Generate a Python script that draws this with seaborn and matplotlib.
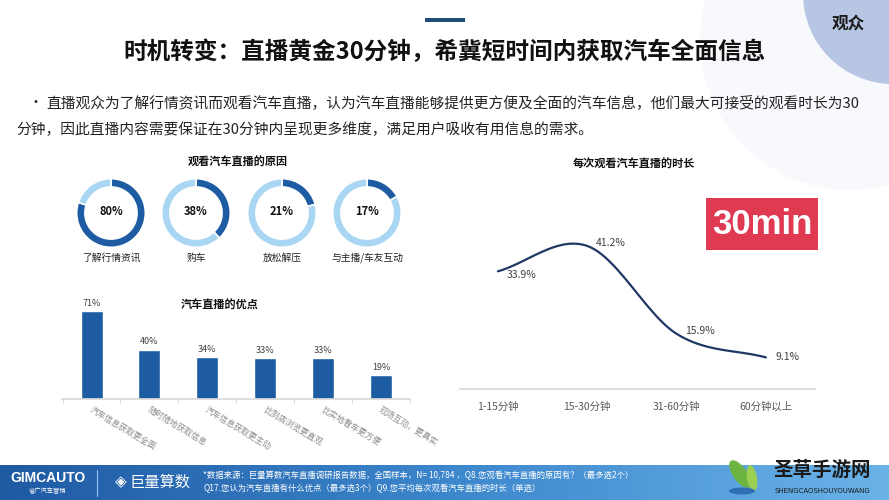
import numpy as np
import pandas as pd
import seaborn as sns
import matplotlib.pyplot as plt
from matplotlib.patches import Circle, Rectangle, Ellipse
from matplotlib.colors import LinearSegmentedColormap

# data
reason_labels = ['了解行情资讯', '购车', '放松解压', '与主播/车友互动']
reason_values = [80, 38, 21, 17]

merit_labels = ['汽车信息获取更全面', '随时随地获取信息', '汽车信息获取更主动',
                '比到店浏览更直观', '比实地看车更方便', '现场互动，更真实']
merit_values = [71, 40, 34, 33, 33, 19]

duration_labels = ['1-15分钟', '15-30分钟', '31-60分钟', '60分钟以上']
duration_values = [33.9, 41.2, 15.9, 9.1]

W, H = 889, 500
DARK = '#1D5BA3'
LIGHT = '#A9D6F2'
NAVY = '#1F3864'

sns.set_theme(style='white')
plt.rcParams['font.family'] = ['Noto Sans CJK SC', 'DejaVu Sans']

fig = plt.figure(figsize=(W / 100, H / 100), dpi=100)
fig.patch.set_facecolor('white')


def px_axes(x0, y0, x1, y1, **kw):
    # axes placed with pixel coords measured from the top-left corner
    ax = fig.add_axes([x0 / W, 1 - y1 / H, (x1 - x0) / W, (y1 - y0) / H], **kw)
    ax.set_facecolor('none')
    return ax


def ftext(x, y, s, **kw):
    return fig.text(x / W, 1 - y / H, s, **kw)


# background decoration (top right)
bg = px_axes(0, 0, W, H)
bg.set_xlim(0, W)
bg.set_ylim(H, 0)
bg.axis('off')
bg.add_patch(Circle((850, 40), 150, facecolor='#F8F9FC', edgecolor='none'))
bg.add_patch(Circle((893, -6), 90, facecolor='#B7C6E3', edgecolor='none'))
bg.add_patch(Rectangle((425, 18), 40, 3.5, facecolor='#1F4E79', edgecolor='none'))
ftext(848, 24, '观众', fontsize=12, fontweight='bold', color='#1A1A1A', ha='center', va='center')

# title and bullet text
ftext(445, 52, '时机转变：直播黄金30分钟，希冀短时间内获取汽车全面信息',
      fontsize=17, fontweight='bold', color='#111111', ha='center', va='center')
ftext(29, 103, '•', fontsize=10, color='#222222', ha='left', va='center')
ftext(46, 103, '直播观众为了解行情资讯而观看汽车直播，认为汽车直播能够提供更方便及全面的汽车信息，他们最大可接受的观看时长为30',
      fontsize=10.6, color='#222222', ha='left', va='center')
ftext(16, 130, '分钟，因此直播内容需要保证在30分钟内呈现更多维度，满足用户吸收有用信息的需求。',
      fontsize=10.6, color='#222222', ha='left', va='center')

# donuts
ftext(238, 162, '观看汽车直播的原因', fontsize=8, fontweight='bold', color='#111111', ha='center', va='center')
centers = [111, 196, 282, 367]
for cx, lab, val in zip(centers, reason_labels, reason_values):
    ax = px_axes(cx - 35, 213 - 35, cx + 35, 213 + 35)
    ax.pie([val, 100 - val], colors=[DARK, LIGHT], startangle=90, counterclock=False, radius=1,
           wedgeprops=dict(width=0.24, edgecolor='white', linewidth=1.2))
    ax.set_xlim(-1.02, 1.02)
    ax.set_ylim(-1.02, 1.02)
    ax.set_aspect('equal')
    ax.text(0, 0.05, f'{val}%', fontsize=8, fontweight='bold', color='#111111', ha='center', va='center')
    ftext(cx, 258, lab, fontsize=7, color='#222222', ha='center', va='center')

# bar chart
ftext(220, 305, '汽车直播的优点', fontsize=8, fontweight='bold', color='#111111', ha='center', va='center')
axb = px_axes(62, 300, 410, 399)
bar_df = pd.DataFrame({'label': merit_labels, 'value': merit_values})
sns.barplot(data=bar_df, x='label', y='value', color=DARK, width=0.38, saturation=1, ax=axb)
axb.set_xlim(-0.51, 5.45)
axb.set_ylim(0, 80)
for i, v in enumerate(merit_values):
    axb.text(i, v + 2.5, f'{v}%', fontsize=6.5, color='#404040', ha='center', va='bottom')
axb.set_xticks(np.arange(-0.5, 6, 1))
axb.set_xticklabels([])
axb.tick_params(axis='x', length=3, color='#D9D9D9', width=0.8, bottom=True)
axb.set_yticks([])
axb.set_xlabel('')
axb.set_ylabel('')
for s in ['top', 'right', 'left']:
    axb.spines[s].set_visible(False)
axb.spines['bottom'].set_color('#D9D9D9')
for i, lab in enumerate(merit_labels):
    axb.annotate(lab, (i, 0), xytext=(-1, -7), textcoords='offset points', rotation=-31,
                 rotation_mode='anchor', ha='left', va='center', fontsize=6, color='#8C8C8C',
                 annotation_clip=False)

# line chart
ftext(634, 164, '每次观看汽车直播的时长', fontsize=8, fontweight='bold', color='#111111', ha='center', va='center')
axl = px_axes(460, 180, 815, 389)


def catmull_rom(y, n=40):
    y = np.asarray(y, dtype=float)
    p = np.concatenate([[2 * y[0] - y[1]], y, [2 * y[-1] - y[-2]]])
    xs, ys = [], []
    for i in range(len(y) - 1):
        t = np.linspace(0, 1, n)
        p0, p1, p2, p3 = p[i], p[i + 1], p[i + 2], p[i + 3]
        seg = 0.5 * ((2 * p1) + (-p0 + p2) * t + (2 * p0 - 5 * p1 + 4 * p2 - p3) * t ** 2
                     + (-p0 + 3 * p1 - 3 * p2 + p3) * t ** 3)
        xs.append(i + t)
        ys.append(seg)
    return np.concatenate(xs), np.concatenate(ys)


sx, sy = catmull_rom(duration_values)
curve = pd.DataFrame({'x': sx, 'y': sy})
sns.lineplot(data=curve, x='x', y='y', color=NAVY, linewidth=1.6, sort=False, ax=axl)
axl.set_xlim(-0.425, 3.55)
axl.set_ylim(0, 60.2)
offsets = [(6, -3), (6, 2), (6, 2), (7, 0)]
for i, (v, off) in enumerate(zip(duration_values, offsets)):
    axl.annotate(f'{v}%', (i, v), xytext=off, textcoords='offset points', fontsize=7.5,
                 color='#404040', ha='left', va='center')
axl.set_xticks(range(4))
axl.set_xticklabels(duration_labels, fontsize=7.5, color='#595959')
axl.tick_params(axis='x', length=0, pad=9)
axl.set_yticks([])
axl.set_xlabel('')
axl.set_ylabel('')
for s in ['top', 'right', 'left']:
    axl.spines[s].set_visible(False)
axl.spines['bottom'].set_color('#D9D9D9')

# 30min badge, on its own top axes
axr = px_axes(706, 198, 818, 250)
axr.set_facecolor('#DF3A52')
axr.set_xticks([])
axr.set_yticks([])
for s in axr.spines.values():
    s.set_visible(False)
axr.text(0.5, 0.5, '30min', transform=axr.transAxes, fontsize=25, fontweight='bold', color='white',
         ha='center', va='center', family=['Liberation Sans', 'DejaVu Sans'])

# footer band
axf = px_axes(0, 465, W, H)
grad = np.linspace(0, 1, 256).reshape(1, -1)
cmap = LinearSegmentedColormap.from_list('band', ['#1F5AA3', '#3C86CC', '#6AB3E8'])
axf.imshow(grad, aspect='auto', cmap=cmap, extent=[0, W, 0, 35])
axf.axis('off')

top = px_axes(0, 0, W, H)
top.set_xlim(0, W)
top.set_ylim(H, 0)
top.axis('off')
top.plot([97, 97], [470, 496], color='#9CC3EA', linewidth=0.8)
# leaf of the watermark
top.add_patch(Ellipse((740, 474), 14, 32, angle=-35, facecolor='#6DB33F', edgecolor='none'))
top.add_patch(Ellipse((752, 478), 10, 26, angle=-10, facecolor='#9BCF53', edgecolor='none'))
top.add_patch(Ellipse((742, 491), 26, 7, facecolor='#2F6FB5', edgecolor='none'))

ftext(48, 478, 'GIMCAUTO', fontsize=10, fontweight='bold', color='white', ha='center', va='center',
      family=['Liberation Sans', 'DejaVu Sans'])
ftext(48, 491, '省广汽车营销', fontsize=4.5, color='white', ha='center', va='center')
ftext(121, 482, '◈', fontsize=11, color='white', ha='center', va='center', family=['DejaVu Sans'])
ftext(160, 482, '巨量算数', fontsize=11, color='white', ha='center', va='center')
ftext(203, 476, '*数据来源：巨量算数汽车直播调研报告数据，全国样本，N= 10,784 ，Q8.您观看汽车直播的原因有？（最多选2个）',
      fontsize=6, color='white', ha='left', va='center')
ftext(203, 489, 'Q17.您认为汽车直播有什么优点（最多选3个）Q9.您平均每次观看汽车直播的时长（单选）',
      fontsize=6, color='white', ha='left', va='center')

# watermark text
ftext(822, 470, '圣草手游网', fontsize=14, fontweight='bold', color='#1A1A1A', ha='center', va='center')
ftext(822, 491, 'SHENGCAOSHOUYOUWANG', fontsize=5, color='#1A1A1A', ha='center', va='center',
      family=['DejaVu Sans'])

fig.savefig('out.png', dpi=100)
